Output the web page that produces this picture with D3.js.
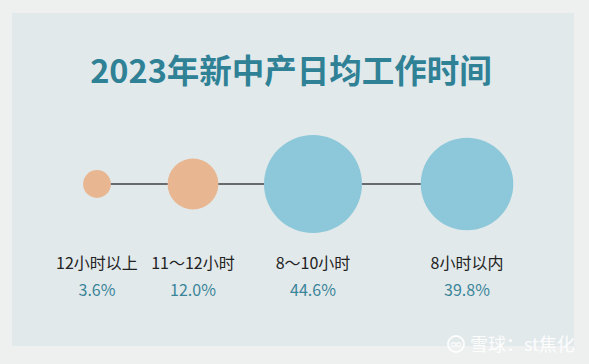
<!DOCTYPE html>
<html>
<head>
<meta charset="utf-8">
<script src="https://cdn.jsdelivr.net/npm/d3@7/dist/d3.min.js"></script>
<style>
  body { margin: 0; background: #eef0f0; }
  svg { display: block; }
</style>
</head>
<body>
<svg width="589" height="364"></svg>
<script>
// data
let categories = ["12小时以上", "11～12小时", "8～10小时", "8小时以内"];
let shares = [3.6, 12.0, 44.6, 39.8];
let groups = ["long", "long", "normal", "normal"];
let title = "2023年新中产日均工作时间";

let svg = d3.select("svg"),
    width = +svg.attr("width"),
    height = +svg.attr("height"),
    cy = 184;

let data = categories.map((c, i) => ({name: c, value: shares[i], group: groups[i]}));

// background panels
svg.append("rect").attr("width", width).attr("height", height).attr("fill", "#eef0f0");
svg.append("rect")
    .attr("x", 12).attr("y", 13)
    .attr("width", 562).attr("height", 333)
    .attr("fill", "#e2e9eb");

// circle area proportional to share
let r = d3.scaleSqrt()
    .domain([0, d3.max(shares)])
    .range([0, 49]);

let x = d3.scaleOrdinal()
    .domain(categories)
    .range([97, 193, 313, 467]);

let color = d3.scaleOrdinal()
    .domain(["long", "normal"])
    .range(["#e8b792", "#8cc8d9"]);

svg.append("text")
    .attr("x", 291)
    .attr("y", 83)
    .attr("text-anchor", "middle")
    .attr("font-family", "'Noto Sans CJK SC', sans-serif")
    .attr("font-weight", "bold")
    .attr("font-size", 32.5)
    .attr("fill", "#2f8196")
    .text(title);

let g = svg.append("g");

g.append("line")
    .attr("x1", x(categories[0]))
    .attr("x2", x(categories[categories.length - 1]))
    .attr("y1", cy).attr("y2", cy)
    .attr("stroke", "#3f4144")
    .attr("stroke-width", 1.5);

g.selectAll("circle")
    .data(data)
    .enter().append("circle")
    .attr("cx", d => x(d.name))
    .attr("cy", cy)
    .attr("r", d => r(d.value))
    .attr("fill", d => color(d.group));

g.selectAll(".cat")
    .data(data)
    .enter().append("text")
    .attr("class", "cat")
    .attr("x", d => x(d.name))
    .attr("y", 269)
    .attr("text-anchor", "middle")
    .attr("font-family", "'Noto Sans CJK SC', sans-serif")
    .attr("font-size", 16)
    .attr("fill", "#222")
    .text(d => d.name);

g.selectAll(".pct")
    .data(data)
    .enter().append("text")
    .attr("class", "pct")
    .attr("x", d => x(d.name))
    .attr("y", 296)
    .attr("text-anchor", "middle")
    .attr("font-family", "'Noto Sans CJK SC', sans-serif")
    .attr("font-size", 16)
    .attr("fill", "#3a8599")
    .text(d => d.value.toFixed(1) + "%");

// watermark
let wm = svg.append("g").attr("opacity", 0.9);
wm.append("circle")
    .attr("cx", 456).attr("cy", 344).attr("r", 8)
    .attr("fill", "none").attr("stroke", "#fff").attr("stroke-width", 2);
wm.append("text")
    .attr("x", 456).attr("y", 348.5)
    .attr("text-anchor", "middle")
    .attr("font-family", "'Noto Sans CJK SC', sans-serif")
    .attr("font-size", 11).attr("font-weight", "bold")
    .attr("fill", "#fff")
    .text("∞");
wm.append("text")
    .attr("x", 470).attr("y", 351)
    .attr("font-family", "'Noto Sans CJK SC', sans-serif")
    .attr("font-size", 18)
    .attr("fill", "#fff")
    .text("雪球：st焦化");
</script>
</body>
</html>
